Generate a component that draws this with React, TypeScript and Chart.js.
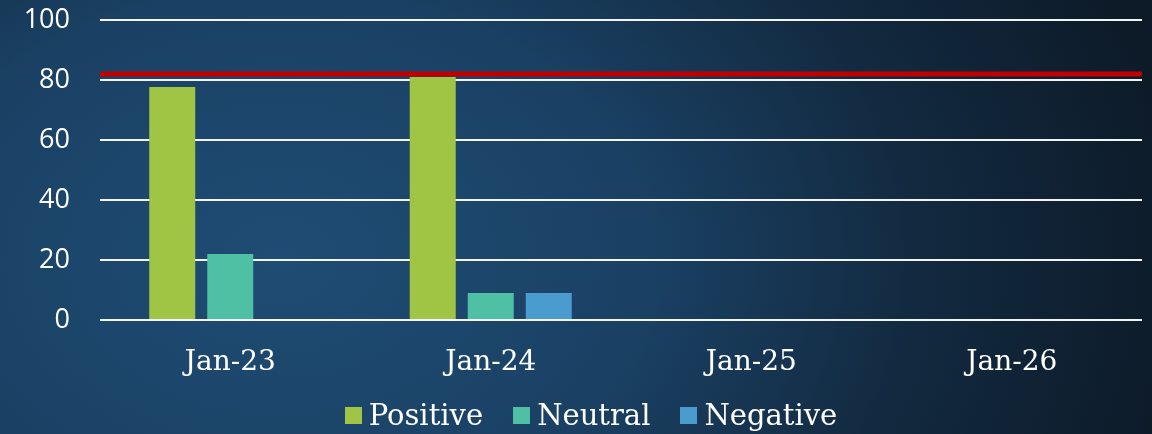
import React, { useEffect, useRef } from "react";
import { Chart, registerables } from "chart.js";

Chart.register(...registerables);

const categories = ["Jan-23", "Jan-24", "Jan-25", "Jan-26"];
const positiveValues = [77.7, 81, null, null];
const neutralValues = [22, 9, null, null];
const negativeValues = [null, 9, null, null];
const seriesNames = ["Positive", "Neutral", "Negative"];
const seriesColors = ["#a0c544", "#4fc0a4", "#4a9ccf"];
const targetValue = 82;
const yTicks = [0, 20, 40, 60, 80, 100];

const targetLinePlugin = {
  id: "targetLine",
  afterDatasetsDraw(chart: any) {
    const { ctx, chartArea, scales } = chart;
    const y = scales.y.getPixelForValue(targetValue);
    ctx.save();
    ctx.strokeStyle = "#c00000";
    ctx.lineWidth = 5;
    ctx.beginPath();
    ctx.moveTo(chartArea.left, y);
    ctx.lineTo(chartArea.right, y);
    ctx.stroke();
    ctx.restore();
  },
};

export default function App() {
  const canvasRef = useRef<HTMLCanvasElement>(null);

  useEffect(() => {
    document.body.style.margin = "0";
    const ctx = canvasRef.current!.getContext("2d")!;
    const chart = new Chart(ctx, {
      type: "bar",
      data: {
        labels: categories,
        datasets: [positiveValues, neutralValues, negativeValues].map((d, i) => ({
          label: seriesNames[i],
          data: d as any,
          backgroundColor: seriesColors[i],
          borderWidth: 0,
          barPercentage: 0.793,
          categoryPercentage: 0.668,
        })),
      },
      options: {
        animation: false,
        responsive: false,
        maintainAspectRatio: false,
        layout: { padding: { top: 20, right: 10, bottom: 0, left: 0 } },
        plugins: {
          legend: { display: false },
          tooltip: { enabled: false },
        },
        scales: {
          x: {
            grid: { display: false, drawTicks: false },
            border: { display: false },
            ticks: {
              color: "#ffffff",
              padding: 26,
              font: { family: "DejaVu Serif", size: 28 },
            },
            afterFit(scale: any) {
              scale.height = 114;
              scale.paddingLeft = 0;
              scale.paddingRight = 0;
            },
          },
          y: {
            min: 0,
            max: 100,
            afterBuildTicks(scale: any) {
              scale.ticks = yTicks.map((v) => ({ value: v }));
            },
            grid: { color: "rgba(255,255,255,0.95)", lineWidth: 2, drawTicks: false },
            border: { display: false },
            ticks: {
              color: "#ffffff",
              padding: 30,
              font: { family: "Open Sans", size: 27 },
            },
            afterFit(scale: any) {
              scale.width = 100;
              scale.paddingTop = 0;
              scale.paddingBottom = 0;
            },
          },
        },
      },
      plugins: [targetLinePlugin],
    });
    return () => chart.destroy();
  }, []);

  return (
    <div
      style={{
        position: "relative",
        width: 1152,
        height: 434,
        overflow: "hidden",
        background:
          "radial-gradient(ellipse 900px 650px at 280px 260px, #1f4c74 0%, #1a4164 40%, #12293f 72%, #0d1b29 100%)",
      }}
    >
      <canvas ref={canvasRef} width={1152} height={434} style={{ display: "block" }} />
      <div
        style={{
          position: "absolute",
          left: 0,
          right: 0,
          top: 398,
          display: "flex",
          justifyContent: "center",
          gap: 30,
          fontFamily: "DejaVu Serif",
          fontSize: 29,
          color: "#ffffff",
          lineHeight: "34px",
          paddingLeft: 30,
        }}
      >
        {seriesNames.map((n, i) => (
          <div key={n} style={{ display: "flex", alignItems: "center" }}>
            <span
              style={{
                display: "inline-block",
                width: 17,
                height: 17,
                background: seriesColors[i],
                marginRight: 7,
              }}
            />
            <span>{n}</span>
          </div>
        ))}
      </div>
    </div>
  );
}
